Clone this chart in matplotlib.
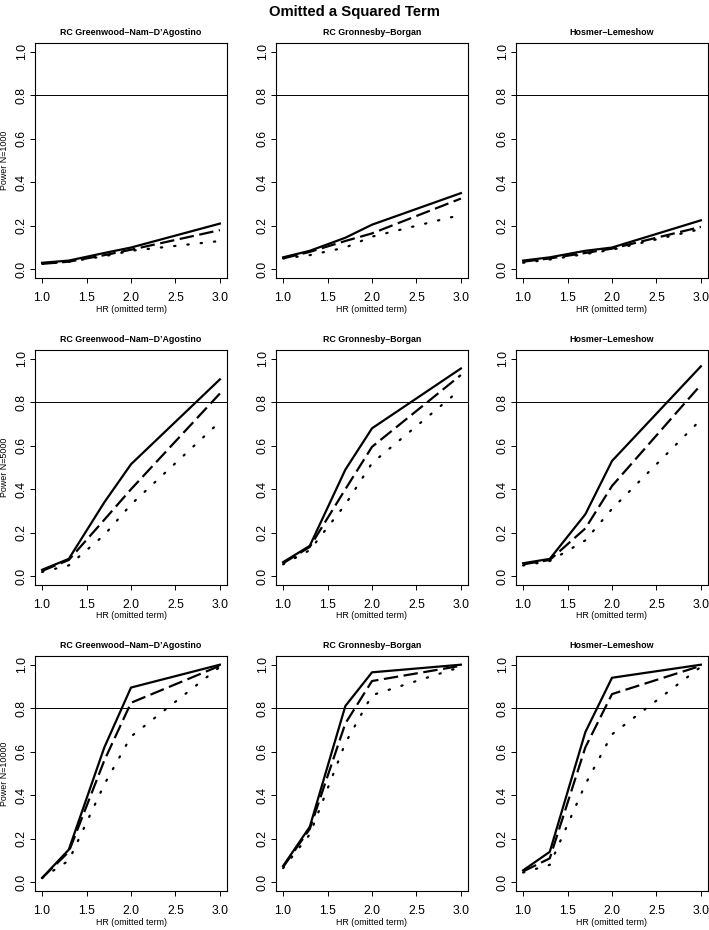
import matplotlib
matplotlib.use("Agg")
import matplotlib.pyplot as plt

plt.rcParams['font.family'] = ['Liberation Sans', 'DejaVu Sans']

hr = [1.0, 1.3, 1.7, 2.0, 3.0]
tests = ["RC Greenwood\u2013Nam\u2013D\u2019Agostino", "RC Gronnesby\u2013Borgan", "Hosmer\u2013Lemeshow"]
sizes = ["1000", "5000", "10000"]

# power[N][test] = (solid, dashed, dotted)
gnd_1000 = ([0.030, 0.040, 0.075, 0.100, 0.210],
            [0.025, 0.035, 0.065, 0.090, 0.180],
            [0.025, 0.035, 0.060, 0.085, 0.130])
gb_1000 = ([0.055, 0.085, 0.145, 0.205, 0.350],
           [0.050, 0.080, 0.130, 0.165, 0.325],
           [0.050, 0.065, 0.100, 0.150, 0.250])
hl_1000 = ([0.040, 0.055, 0.085, 0.100, 0.225],
           [0.035, 0.050, 0.075, 0.095, 0.195],
           [0.030, 0.045, 0.070, 0.090, 0.185])

gnd_5000 = ([0.030, 0.080, 0.340, 0.515, 0.905],
            [0.025, 0.075, 0.260, 0.400, 0.840],
            [0.020, 0.050, 0.190, 0.330, 0.710])
gb_5000 = ([0.065, 0.140, 0.490, 0.680, 0.955],
           [0.060, 0.135, 0.400, 0.595, 0.925],
           [0.055, 0.120, 0.330, 0.520, 0.860])
hl_5000 = ([0.060, 0.080, 0.285, 0.530, 0.965],
           [0.055, 0.075, 0.220, 0.415, 0.880],
           [0.050, 0.070, 0.165, 0.310, 0.720])

gnd_10000 = ([0.020, 0.150, 0.620, 0.895, 1.000],
             [0.020, 0.140, 0.560, 0.825, 0.995],
             [0.020, 0.100, 0.450, 0.670, 0.990])
gb_10000 = ([0.075, 0.255, 0.810, 0.965, 1.000],
            [0.070, 0.245, 0.730, 0.925, 0.995],
            [0.065, 0.220, 0.640, 0.860, 0.990])
hl_10000 = ([0.055, 0.140, 0.690, 0.940, 1.000],
            [0.050, 0.110, 0.620, 0.865, 0.995],
            [0.045, 0.080, 0.450, 0.680, 0.990])

power = [[gnd_1000, gb_1000, hl_1000],
         [gnd_5000, gb_5000, hl_5000],
         [gnd_10000, gb_10000, hl_10000]]

xticks = [1.0, 1.5, 2.0, 2.5, 3.0]
yticks = [0.0, 0.2, 0.4, 0.6, 0.8, 1.0]
ref_line = 0.8

W, H = 709, 930
fig = plt.figure(figsize=(W / 100, H / 100), dpi=100)

lefts = [35, 276, 516]
width = 192
tops = [43, 350, 656]
heights = [235, 235, 235]

styles = [dict(linestyle='-'),
          dict(linestyle=(0, (6.5, 2.5))),
          dict(linestyle=(0, (0.6, 5.4)), dash_capstyle='round')]

for r in range(3):
    for c in range(3):
        h = heights[r]
        ax = fig.add_axes([lefts[c] / W, 1 - (tops[r] + h) / H,
                           width / W, h / H])
        for s, vals in enumerate(power[r][c]):
            ax.plot(hr, vals, color='black', lw=1.6, **styles[s])
        ax.axhline(ref_line, color='black', lw=0.7)
        ax.set_xlim(0.92, 3.08)
        ax.set_ylim(-0.04, 1.04)
        ax.set_xticks(xticks)
        ax.set_xticklabels([f"{t:.1f}" for t in xticks])
        ax.set_yticks(yticks)
        ax.set_yticklabels([f"{t:.1f}" for t in yticks], rotation=90, va='center')
        ax.tick_params(direction='out', length=3.6, width=0.7, labelsize=8.8)
        ax.tick_params(axis='x', pad=6.5)
        ax.tick_params(axis='y', pad=1.5)
        for sp in ax.spines.values():
            sp.set_linewidth(0.8)
        ax.set_title(tests[c], fontsize=6.4, fontweight='bold', pad=6)
        ax.set_xlabel("HR (omitted term)", fontsize=6.4, va='center')
        ax.xaxis.set_label_coords(0.5, -31 / h)
        if c == 0:
            ax.set_ylabel(f"Power N={sizes[r]}", fontsize=6.4, va='center')
            ax.yaxis.set_label_coords(-(lefts[c] - 5) / width, 0.5)

fig.text(0.5, 1 - 12 / H, "Omitted a Squared Term", ha='center', va='center',
         fontsize=10.7, fontweight='bold')

fig.savefig("out.png", dpi=100)
